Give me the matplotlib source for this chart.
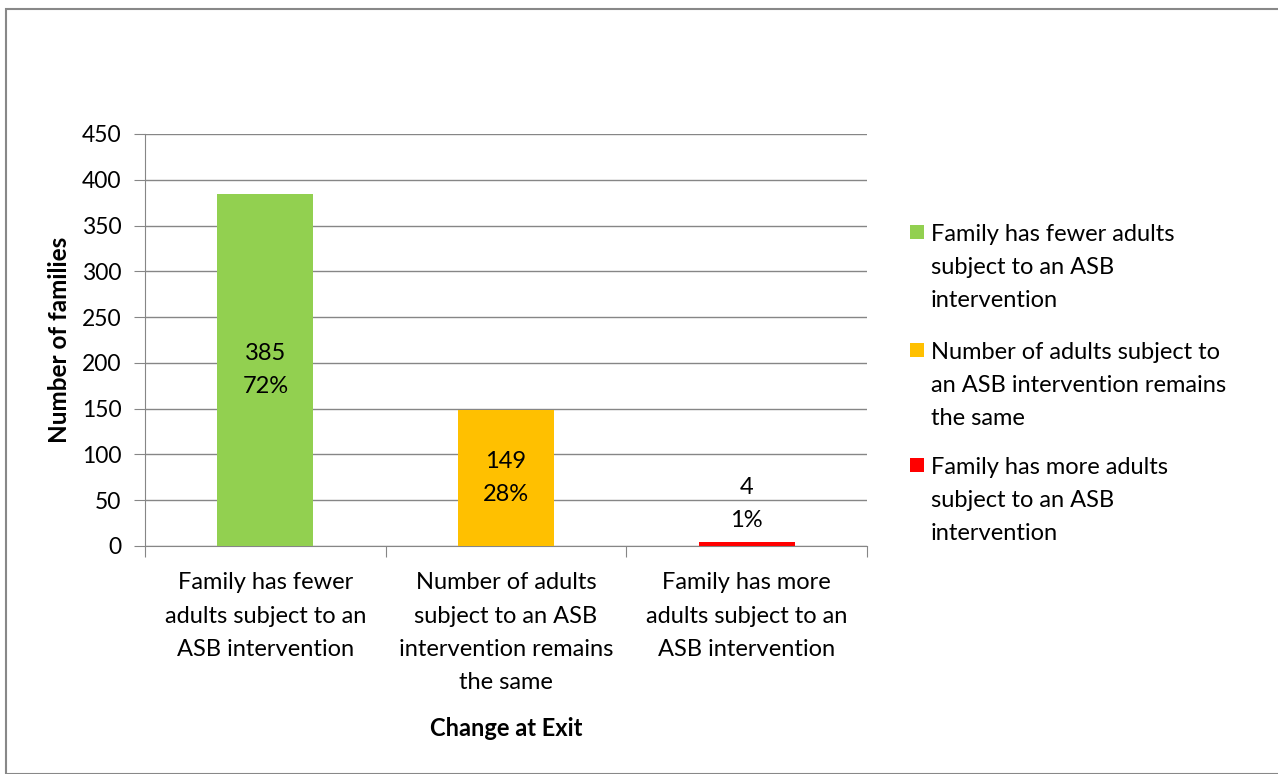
import matplotlib
matplotlib.use("Agg")
import matplotlib.pyplot as plt
from matplotlib.patches import Rectangle

categories = ["Family has fewer\nadults subject to an\nASB intervention",
              "Number of adults\nsubject to an ASB\nintervention remains\nthe same",
              "Family has more\nadults subject to an\nASB intervention"]
legend_labels = ["Family has fewer adults\nsubject to an ASB\nintervention",
                 "Number of adults subject to\nan ASB intervention remains\nthe same",
                 "Family has more adults\nsubject to an ASB\nintervention"]
values = [385, 149, 4]
percents = ["72%", "28%", "1%"]
colors = ["#92D050", "#FFC000", "#FF0000"]
yticks = [0, 50, 100, 150, 200, 250, 300, 350, 400, 450]

plt.rcParams['font.family'] = ['Lato', 'DejaVu Sans']
W, H = 1278, 774
FS = 17
LS = 1.72
fig = plt.figure(figsize=(W/100, H/100), dpi=100)

# outer border
fig.patches.append(Rectangle((6/W, 0), 1.5, 1 - 9/H, transform=fig.transFigure,
                             fill=False, edgecolor="#888888", linewidth=1.5))

ax = fig.add_axes([145/W, 1 - 546/H, (867-145)/W, (546-134)/H])
x = list(range(len(values)))
ax.bar(x, values, width=0.4, color=colors, zorder=3)
ax.set_xlim(-0.5, 2.5)
ax.set_ylim(0, 450)
ax.set_yticks(yticks)
ax.yaxis.grid(True, color="#868686", linewidth=1, zorder=0)
ax.set_axisbelow(True)
for s in ["top", "right"]:
    ax.spines[s].set_visible(False)
for s in ["left", "bottom"]:
    ax.spines[s].set_color("#868686")
ax.tick_params(axis="y", length=8, color="#868686", labelsize=16.5, pad=9)
ax.set_xticks([-0.5, 0.5, 1.5, 2.5], minor=False)
ax.set_xticklabels([])
ax.tick_params(axis="x", which="major", length=8, color="#868686")
ax.set_xticks(x, minor=True)
ax.set_xticklabels(categories, minor=True, fontsize=FS, linespacing=LS)
ax.tick_params(axis="x", which="minor", length=0, pad=19)

for i, (v, p) in enumerate(zip(values, percents)):
    if v > 50:
        ax.text(i, v/2, f"{v}\n{p}", ha="center", va="center", fontsize=FS, linespacing=LS)
    else:
        ax.text(i, v + 12, f"{v}\n{p}", ha="center", va="bottom", fontsize=FS, linespacing=LS)

ax.set_ylabel("Number of families", fontsize=17.5, fontweight="bold", labelpad=8)
fig.text(506/W, 1 - 728/H, "Change at Exit", ha="center", va="center", fontsize=FS, fontweight="bold")

# legend (Excel-style: marker aligned with first line)
leg_tops = [232, 350, 465]
for lab, c, yc in zip(legend_labels, colors, leg_tops):
    fig.patches.append(Rectangle((910/W, 1 - (yc + 7)/H), 14/W, 14/H,
                                 transform=fig.transFigure, facecolor=c, edgecolor="none"))
    fig.text(931/W, 1 - (yc - 8)/H, lab, ha="left", va="top", fontsize=FS, linespacing=LS)

fig.savefig("out.png", dpi=100)
